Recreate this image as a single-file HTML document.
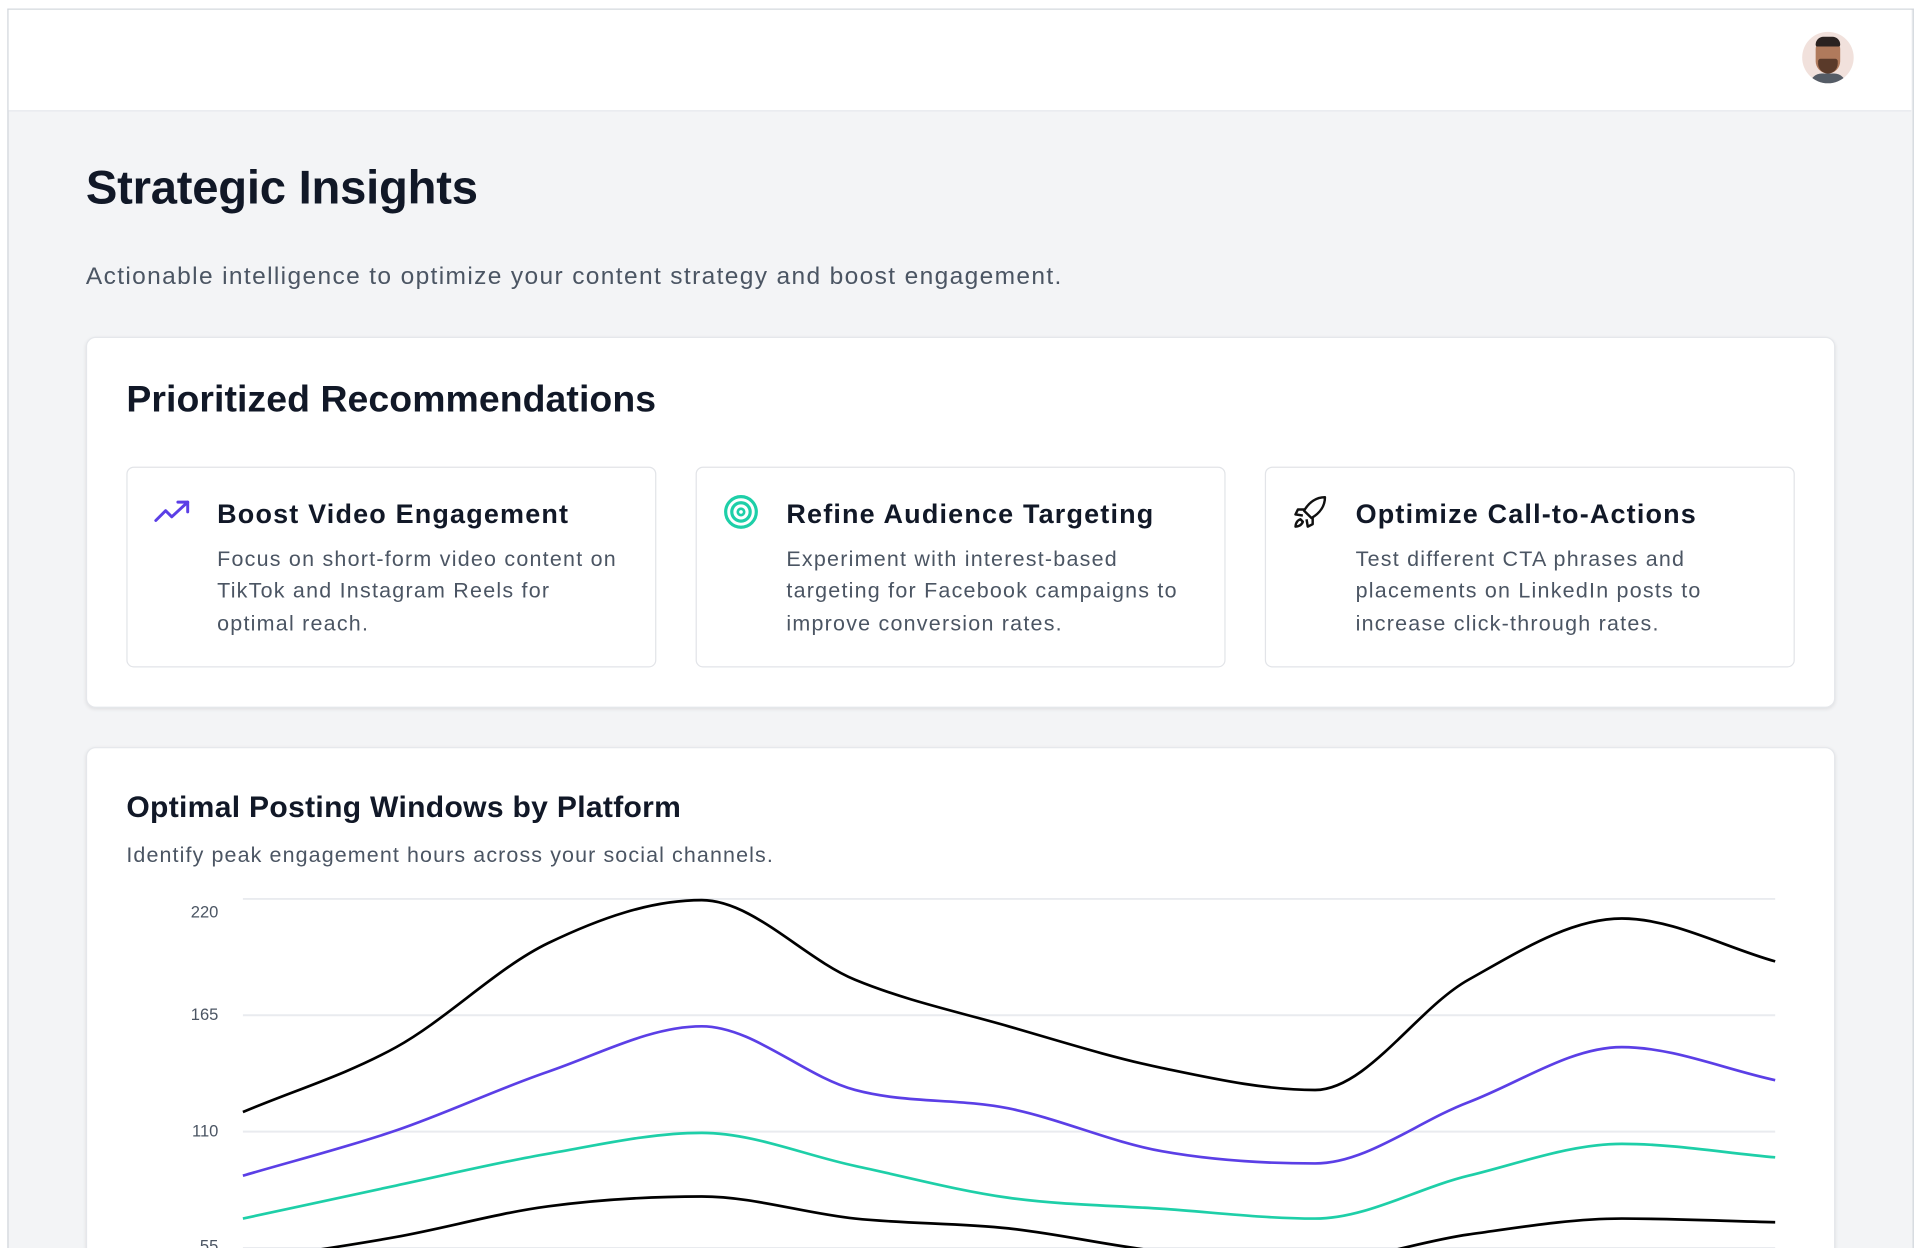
<!DOCTYPE html>
<html><head><meta charset="utf-8"><style>
html,body{margin:0;padding:0;background:#fff;width:1920px;height:1248px;overflow:hidden}
#w{position:absolute;left:0;top:0;width:1565px;height:1019px;transform:scale(1.2268,1.2247);transform-origin:0 0;font-family:"Liberation Sans",sans-serif;overflow:hidden}
.a{position:absolute;white-space:nowrap}
.frame{position:absolute;left:6px;top:7px;width:1552px;height:1020px;border-left:1px solid #d1d5db;border-top:1px solid #d1d5db;border-right:1px solid #d1d5db;background:#f3f4f6}
.hdr{position:absolute;left:7px;top:8px;width:1551px;height:82px;background:#fff;border-bottom:1px solid #e5e7eb}
.card{position:absolute;background:#fff;border:1px solid #e5e7eb;border-radius:8px;box-shadow:0 1px 3px rgba(0,0,0,.08)}
.ic{position:absolute;background:#fff;border:1px solid #e2e4e8;border-radius:6px}
.t{font-weight:bold;font-size:22px;color:#111827;line-height:26px;letter-spacing:0.95px}
.d{font-size:17.5px;color:#4b5563;line-height:26.4px;letter-spacing:1px}
.yl{font-size:13.5px;color:#4b5563;text-align:right;width:40px}
</style></head><body><div id="w">
<div class="frame"></div>
<div class="hdr"></div>
<div class="a" style="left:1469px;top:26px;width:42px;height:42px;border-radius:50%;background:#f1e1dc;overflow:hidden">
<div style="position:absolute;left:11px;top:6px;width:20px;height:28px;border-radius:9px 9px 11px 11px;background:#b07a5c"></div>
<div style="position:absolute;left:11px;top:4px;width:20px;height:8px;border-radius:8px 8px 2px 2px;background:#2a2220"></div>
<div style="position:absolute;left:13px;top:22px;width:16px;height:12px;border-radius:2px 2px 8px 8px;background:#5a3a2a"></div>
<div style="position:absolute;left:6px;top:34px;width:30px;height:12px;border-radius:10px 10px 0 0;background:#555c66"></div>
</div>
<div class="a" style="left:70px;top:132px;font-size:38.5px;font-weight:bold;color:#111827;letter-spacing:-0.2px">Strategic Insights</div>
<div class="a" style="left:70px;top:215px;font-size:20px;color:#4b5563;letter-spacing:1.1px">Actionable intelligence to optimize your content strategy and boost engagement.</div>

<div class="card" style="left:70px;top:275px;width:1424px;height:301px"></div>
<div class="a" style="left:103px;top:309px;font-size:30.5px;font-weight:bold;color:#111827;letter-spacing:0.05px">Prioritized Recommendations</div>

<div class="ic" style="left:103px;top:381px;width:430px;height:162px"></div>
<div class="ic" style="left:567px;top:381px;width:430px;height:162px"></div>
<div class="ic" style="left:1031px;top:381px;width:430px;height:162px"></div>

<svg class="a" style="left:124px;top:406px" width="32" height="24" viewBox="0 0 32 24"><polyline points="3,19 11,11 16,16 29,4" fill="none" stroke="#5b3fe6" stroke-width="2.4" stroke-linejoin="round" stroke-linecap="round"/><polyline points="21,4 29,4 29,12" fill="none" stroke="#5b3fe6" stroke-width="2.4" stroke-linejoin="round" stroke-linecap="round"/></svg>
<svg class="a" style="left:589px;top:403px" width="30" height="30" viewBox="0 0 30 30"><circle cx="15" cy="15" r="12.5" fill="none" stroke="#1ecfa8" stroke-width="2.6"/><circle cx="15" cy="15" r="7.5" fill="none" stroke="#1ecfa8" stroke-width="2.6"/><circle cx="15" cy="15" r="2.6" fill="none" stroke="#1ecfa8" stroke-width="2.2"/></svg>
<svg class="a" style="left:1053px;top:403px" width="32" height="30" viewBox="0 0 32 30"><path d="M27 3 C20 3 14 7 10 14 L16 20 C23 16 27 10 27 3 Z" fill="none" stroke="#111" stroke-width="2" stroke-linejoin="round"/><path d="M11 13 L5 13 L3 17 L9 18" fill="none" stroke="#111" stroke-width="2" stroke-linejoin="round"/><path d="M17 19 L17 25 L13 27 L12 21" fill="none" stroke="#111" stroke-width="2" stroke-linejoin="round"/><path d="M7 21 C4 22 3 25 3 27 C5 27 8 26 9 23 Z" fill="none" stroke="#111" stroke-width="2" stroke-linejoin="round"/></svg>

<div class="a t" style="left:177px;top:407px">Boost Video Engagement</div>
<div class="a d" style="left:177px;top:443px">Focus on short-form video content on<br>TikTok and Instagram Reels for<br>optimal reach.</div>
<div class="a t" style="left:641px;top:407px">Refine Audience Targeting</div>
<div class="a d" style="left:641px;top:443px">Experiment with interest-based<br>targeting for Facebook campaigns to<br>improve conversion rates.</div>
<div class="a t" style="left:1105px;top:407px">Optimize Call-to-Actions</div>
<div class="a d" style="left:1105px;top:443px">Test different CTA phrases and<br>placements on LinkedIn posts to<br>increase click-through rates.</div>

<div class="card" style="left:70px;top:610px;width:1424px;height:500px"></div>
<div class="a" style="left:103px;top:646px;font-size:24.5px;font-weight:bold;color:#111827;letter-spacing:0.25px">Optimal Posting Windows by Platform</div>
<div class="a" style="left:103px;top:688px;font-size:17.5px;color:#4b5563;letter-spacing:0.9px">Identify peak engagement hours across your social channels.</div>

<div class="a yl" style="left:138px;top:737px">220</div>
<div class="a yl" style="left:138px;top:821px">165</div>
<div class="a yl" style="left:138px;top:916px">110</div>
<div class="a yl" style="left:138px;top:1010px">55</div>

<svg class="a" style="left:0;top:0" width="1565" height="1019" viewBox="0 0 1565 1019">
<g stroke="#e9ebef" stroke-width="1.6"><line x1="198" y1="734" x2="1447" y2="734"/><line x1="198" y1="829" x2="1447" y2="829"/><line x1="198" y1="924" x2="1447" y2="924"/><line x1="198" y1="1019" x2="1447" y2="1019"/></g>
<g fill="none" stroke-width="2.2" id="lines"></g>
</svg>
</div>
<script>
var xs=[198,323,447,572,697,822,947,1072,1197,1322,1447];
var S=[
["#000",[908,855,770,735,800,838,872,890,800,750,785]],
["#5b3fe6",[960,923,875,838,890,905,940,950,900,855,882]],
["#1ecfa8",[995,968,942,925,952,978,987,995,960,934,945]],
["#000",[1030,1010,985,977,995,1003,1022,1030,1008,995,998]]];
function path(ys){var n=ys.length,m=[];for(var i=0;i<n;i++){var a=ys[Math.max(0,i-1)],b=ys[Math.min(n-1,i+1)],xa=xs[Math.max(0,i-1)],xb=xs[Math.min(n-1,i+1)];m.push((b-a)/(xb-xa));}
for(var i=1;i<n-1;i++){var d0=ys[i]-ys[i-1],d1=ys[i+1]-ys[i];if(d0*d1<=0)m[i]=0;}
var p="M"+xs[0]+","+ys[0];for(var i=0;i<n-1;i++){var h=(xs[i+1]-xs[i])/3;p+=" C"+(xs[i]+h)+","+(ys[i]+m[i]*h)+" "+(xs[i+1]-h)+","+(ys[i+1]-m[i+1]*h)+" "+xs[i+1]+","+ys[i+1];}return p;}
var g=document.getElementById("lines"),h="";S.forEach(function(s){h+='<path stroke="'+s[0]+'" d="'+path(s[1])+'"/>';});g.innerHTML=h;
</script>
</body></html>
